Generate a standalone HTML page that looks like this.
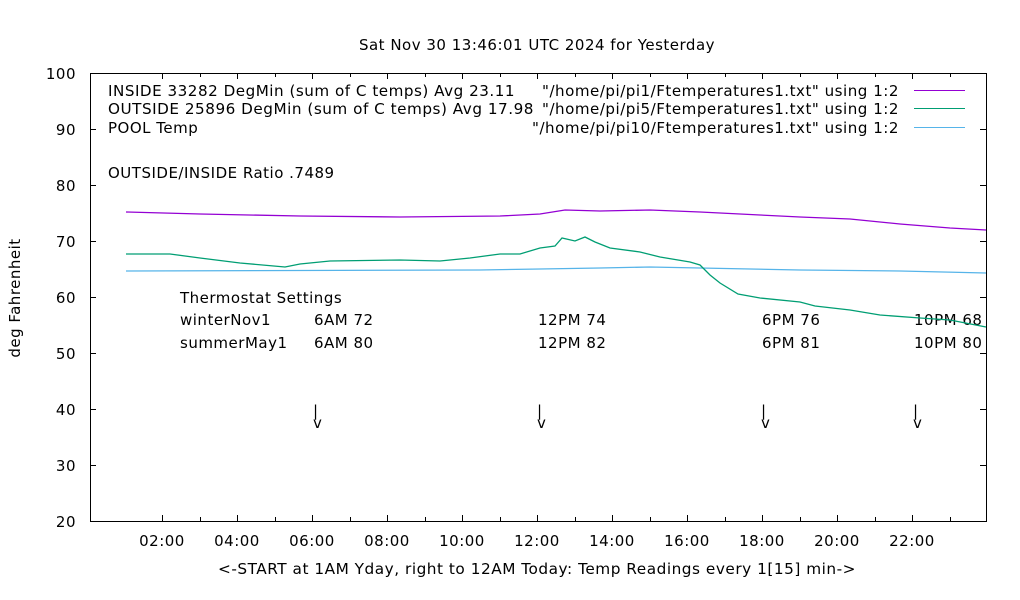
<!DOCTYPE html>
<html><head><meta charset="utf-8"><style>body{margin:0;background:#fff}svg{display:block}text{font-family:"DejaVu Sans","Liberation Sans",sans-serif;font-size:15px;letter-spacing:0.5px;fill:#000}</style></head><body>
<svg width="1020" height="600" xmlns="http://www.w3.org/2000/svg">
<text x="537" y="50" text-anchor="middle">Sat Nov 30 13:46:01 UTC 2024 for Yesterday</text>
<rect x="90.5" y="73.5" width="896" height="448" fill="none" stroke="#000" stroke-width="1"/>
<g stroke="#000" stroke-width="1">
<path d="M90 129.5h6M90 185.5h6M90 241.5h6M90 297.5h6M90 353.5h6M90 409.5h6M90 465.5h6M986 129.5h-6M986 185.5h-6M986 241.5h-6M986 297.5h-6M986 353.5h-6M986 409.5h-6M986 465.5h-6"/>
<path d="M162.5 521v-6M200.5 521v-4M237.5 521v-6M275.5 521v-4M312.5 521v-6M350.5 521v-4M387.5 521v-6M425.5 521v-4M462.5 521v-6M500.5 521v-4M537.5 521v-6M575.5 521v-4M612.5 521v-6M650.5 521v-4M687.5 521v-6M725.5 521v-4M762.5 521v-6M800.5 521v-4M837.5 521v-6M875.5 521v-4M912.5 521v-6M950.5 521v-4M162.5 73v6M200.5 73v4M237.5 73v6M275.5 73v4M312.5 73v6M350.5 73v4M387.5 73v6M425.5 73v4M462.5 73v6M500.5 73v4M537.5 73v6M575.5 73v4M612.5 73v6M650.5 73v4M687.5 73v6M725.5 73v4M762.5 73v6M800.5 73v4M837.5 73v6M875.5 73v4M912.5 73v6M950.5 73v4"/>
</g>
<g text-anchor="end">
<text x="76" y="79">100</text><text x="76" y="135">90</text><text x="76" y="191">80</text><text x="76" y="247">70</text><text x="76" y="303">60</text><text x="76" y="359">50</text><text x="76" y="415">40</text><text x="76" y="471">30</text><text x="76" y="527">20</text>
</g>
<g text-anchor="middle">
<text x="162" y="546">02:00</text><text x="237" y="546">04:00</text><text x="312" y="546">06:00</text><text x="387" y="546">08:00</text><text x="462" y="546">10:00</text><text x="537" y="546">12:00</text><text x="612" y="546">14:00</text><text x="687" y="546">16:00</text><text x="762" y="546">18:00</text><text x="837" y="546">20:00</text><text x="912" y="546">22:00</text>
</g>
<text x="218" y="574" textLength="638" lengthAdjust="spacingAndGlyphs">&lt;-START at 1AM Yday, right to 12AM Today:  Temp Readings every 1[15] min-&gt;</text>
<text transform="translate(20,298) rotate(-90)" text-anchor="middle">deg Fahrenheit</text>
<text x="108" y="96" textLength="407" lengthAdjust="spacingAndGlyphs">INSIDE 33282 DegMin (sum of C temps) Avg 23.11</text>
<text x="108" y="114" textLength="426" lengthAdjust="spacingAndGlyphs">OUTSIDE 25896 DegMin (sum of C temps) Avg 17.98</text>
<text x="108" y="133">POOL Temp</text>
<text x="542" y="96" textLength="357" lengthAdjust="spacingAndGlyphs">"/home/pi/pi1/Ftemperatures1.txt" using 1:2</text>
<text x="542" y="114" textLength="357" lengthAdjust="spacingAndGlyphs">"/home/pi/pi5/Ftemperatures1.txt" using 1:2</text>
<text x="532" y="133" textLength="367" lengthAdjust="spacingAndGlyphs">"/home/pi/pi10/Ftemperatures1.txt" using 1:2</text>
<path d="M914 90.5h51" stroke="#9400d3"/><path d="M914 108.5h51" stroke="#009e73"/><path d="M914 127.5h51" stroke="#56b4e9"/>
<text x="108" y="178">OUTSIDE/INSIDE Ratio .7489</text>
<text x="180" y="303">Thermostat Settings</text>
<text x="180" y="325">winterNov1</text><text x="314" y="325">6AM 72</text><text x="538" y="325">12PM 74</text><text x="762" y="325">6PM 76</text><text x="914" y="325">10PM 68</text>
<text x="180" y="348">summerMay1</text><text x="314" y="348">6AM 80</text><text x="538" y="348">12PM 82</text><text x="762" y="348">6PM 81</text><text x="914" y="348">10PM 80</text>
<g><text x="313" y="416">|</text><text x="313" y="428">v</text><text x="537" y="416">|</text><text x="537" y="428">v</text><text x="761" y="416">|</text><text x="761" y="428">v</text><text x="913" y="416">|</text><text x="913" y="428">v</text></g>
<g fill="none" stroke-width="1.3">
<polyline stroke="#56b4e9" points="126,271 480,270 540,269 600,268 650,267 700,268 800,270 900,271 986,273"/>
<polyline stroke="#009e73" points="126,254 170,254 200,258 240,263 285,267 300,264 330,261 400,260 440,261 470,258 500,254 520,254 540,248 555,246 562,238 575,241 585,237 595,242 610,248 640,252 660,257 690,262 700,265 710,275 720,283 738,294 760,298 800,302 815,306 850,310 880,315 920,318 950,320 986,327"/>
<polyline stroke="#9400d3" points="126,212 200,214 300,216 400,217 500,216 540,214 565,210 600,211 650,210 700,212 760,215 800,217 850,219 900,224 950,228 986,230"/>
</g>
</svg></body></html>
